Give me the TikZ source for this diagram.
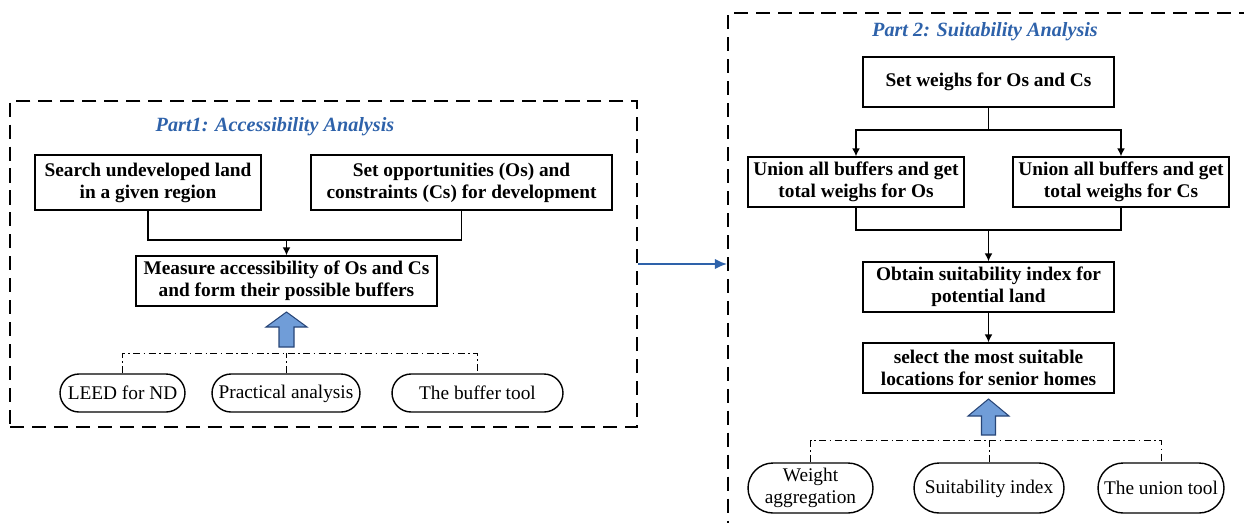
\documentclass[tikz,border=0pt]{standalone}
\usepackage{fontspec}
\setmainfont{Liberation Serif}
\usepackage{tikz}
\usetikzlibrary{arrows,arrows.meta,calc,positioning}
\definecolor{partblue}{RGB}{46,98,170}
\definecolor{arrowfill}{RGB}{112,157,216}
\definecolor{arrowdraw}{RGB}{40,70,120}

\begin{document}
\begin{tikzpicture}[x=0.02cm, y=-0.02cm, line width=0.8pt, >={Latex[length=4.5pt,width=4.5pt]},
  box/.style={draw, rectangle, align=center, font=\fontsize{11}{12.6}\selectfont\bfseries, inner sep=1pt},
  tool/.style={draw, rectangle, rounded corners=0.38cm, align=center, font=\fontsize{11}{12.6}\selectfont, minimum height=0.76cm, inner sep=1pt},
  panel/.style={draw, dash pattern=on 8pt off 4.5pt, line width=1.1pt, inner sep=0pt},
  title/.style={text=partblue, font=\fontsize{11.5}{13}\selectfont\bfseries\itshape},
  dashdot/.style={dash pattern=on 4pt off 2pt on 0.8pt off 2pt, line width=0.5pt},
  barrow/.style={draw=arrowdraw, fill=arrowfill, line width=0.6pt}]
   \useasboundingbox (0,0) rectangle (1244,522);
   \clip (0,0) rectangle (1244,522);

   % the two parts
   \node[panel, minimum width=12.54cm, minimum height=6.52cm] (part1) at (323.5,264) {};
   \node[panel, minimum width=11.44cm, minimum height=11.34cm] (part2) at (1014,296.5) {};
   \node[title] (title1) at (275,127) {Part1: Accessibility Analysis};
   \node[title] (title2) at (985,32) {Part 2: Suitability Analysis};
   \draw[-{Latex[length=7pt,width=6pt]}, partblue, line width=1.2pt] (part1.east) -- (part1.east -| part2.west);

   % part 1
   \node[box, minimum width=4.52cm, minimum height=1.1cm] (a1) at (148,182.5) {Search undeveloped land\\in a given region};
   \node[box, minimum width=6.02cm, minimum height=1.1cm] (a2) at (461.5,182.5) {Set opportunities (Os) and\\constraints (Cs) for development};
   \node[box, minimum width=6.02cm, minimum height=1.0cm] (a3) at (286.5,281) {Measure accessibility of Os and Cs\\and form their possible buffers};
   \coordinate (j1) at (286.5,240);
   \draw (a1) |- (j1) -| (a2);
   \draw[->] (j1) -- (a3);
   \draw[barrow] (286.5,312) -- ++(20.5,15) -- ++(-13,0) -- ++(0,20) -- ++(-15,0) -- ++(0,-20) -- ++(-13,0) -- cycle;

   \node[tool, minimum width=2.5cm] (t1) at (122.5,393) {LEED for ND};
   \node[tool, minimum width=2.96cm, text height=1.6ex, text depth=0.2ex] (t2) at (286,393) {Practical analysis};
   \node[tool, minimum width=3.42cm] (t3) at (477.5,393) {The buffer tool};
   \coordinate (j2) at (286,353);
   \draw[dashdot] (t1) |- (j2) -| (t3);
   \draw[dashdot] (t2) -- (t2 |- j2);

   % part 2
   \node[box, minimum width=5.02cm, minimum height=1.0cm] (b1) at (988.5,82) {Set weighs for Os and Cs};
   \node[box, minimum width=4.32cm, minimum height=1.0cm] (b2) at (856,182) {Union all buffers and get\\total weighs for Os};
   \node[box, minimum width=4.32cm, minimum height=1.0cm] (b3) at (1121,182) {Union all buffers and get\\total weighs for Cs};
   \node[box, minimum width=5.02cm, minimum height=1.0cm] (b4) at (988.5,287) {Obtain suitability index for\\potential land};
   \node[box, minimum width=5.02cm, minimum height=1.0cm] (b5) at (988.5,368) {select the most suitable\\locations for senior homes};
   \coordinate (j3) at (988.5,130);
   \coordinate (j4) at (988.5,230);
   \draw (b1) -- (j3);
   \draw[->] (j3) -| (b2);
   \draw[->] (j3) -| (b3);
   \draw (b2) |- (j4) -| (b3);
   \draw[->] (j4) -- (b4);
   \draw[->] (b4) -- (b5);
   \draw[barrow] (988.5,399) -- ++(20.5,17) -- ++(-13.5,0) -- ++(0,19) -- ++(-14,0) -- ++(0,-19) -- ++(-13.5,0) -- cycle;

   \node[tool, minimum width=2.5cm, minimum height=1.0cm, rounded corners=0.5cm] (u1) at (810.5,488) {Weight\\aggregation};
   \node[tool, minimum width=3.0cm, minimum height=1.0cm, rounded corners=0.5cm, text height=1.6ex, text depth=0.2ex] (u2) at (989,488) {Suitability index};
   \node[tool, minimum width=2.52cm, minimum height=1.0cm, rounded corners=0.5cm] (u3) at (1161,488) {The union tool};
   \coordinate (j5) at (988.5,440);
   \draw[dashdot] (u1) |- (j5) -| (u3);
   \draw[dashdot] (u2) -- (u2 |- j5);
\end{tikzpicture}
\end{document}
